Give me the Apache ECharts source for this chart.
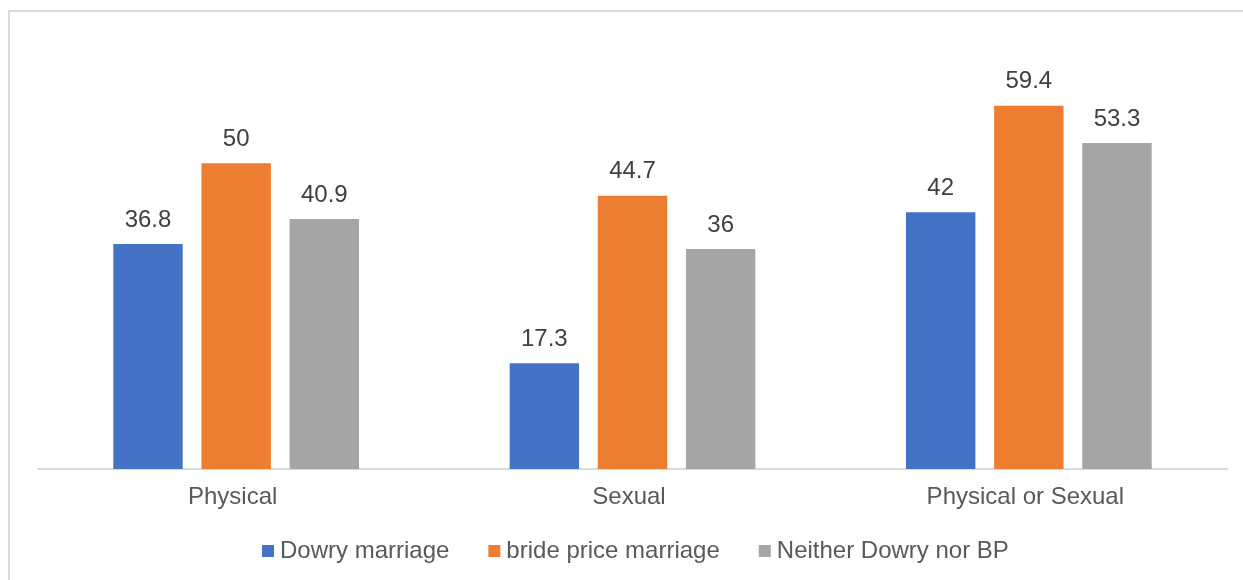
<!DOCTYPE html>
<html>
<head>
<meta charset="utf-8">
<script src="https://cdn.jsdelivr.net/npm/echarts@6/dist/echarts.min.js"></script>
<style>
html, body { margin: 0; padding: 0; background: #fff; }
#bars_chart { width: 1243px; height: 580px; }
</style>
</head>
<body>
<div id="bars_chart"></div>
<script>
var categories = ['Physical', 'Sexual', 'Physical or Sexual'];
var seriesNames = ['Dowry marriage', 'bride price marriage', 'Neither Dowry nor BP'];
var dowryValues = [36.8, 17.3, 42];
var bridePriceValues = [50, 44.7, 59.4];
var neitherValues = [40.9, 36, 53.3];
var seriesColors = ['#4472C4', '#ED7D31', '#A5A5A5'];

function display_bars(){
    var bar_chart = echarts.init(document.getElementById('bars_chart'));
    var font = '"Liberation Sans", Arial, sans-serif';
    var values = [dowryValues, bridePriceValues, neitherValues];

    var series = [];
    for (var i = 0; i < seriesNames.length; i++) {
        series.push({
            name: seriesNames[i],
            type: 'bar',
            data: values[i],
            barGap: '27%',
            barCategoryGap: '38%',
            itemStyle: { color: seriesColors[i] },
            label: {
                show: true,
                position: 'top',
                distance: 12,
                color: '#404040',
                fontSize: 24,
                fontFamily: font
            }
        });
    }

    var bar_option = {
        animation: false,
        backgroundColor: '#ffffff',
        graphic: [{
            type: 'rect',
            shape: { x: 9, y: 11, width: 1400, height: 800 },
            style: { fill: 'none', stroke: '#d9d9d9', lineWidth: 2 },
            silent: true
        }],
        grid: { left: 38, right: 16, top: 41, bottom: 111 },
        legend: {
            data: seriesNames,
            left: 262,
            top: 539,
            padding: 0,
            itemWidth: 12,
            itemHeight: 12,
            itemGap: 39,
            icon: 'rect',
            textStyle: { color: '#595959', fontSize: 24, fontFamily: font, padding: [0, 0, 0, 1] }
        },
        xAxis: {
            type: 'category',
            data: categories,
            axisLine: { lineStyle: { color: '#d9d9d9', width: 2 } },
            axisTick: { show: false },
            axisLabel: { color: '#595959', fontSize: 24, fontFamily: font, margin: 16, padding: [0, 7, 0, 0] }
        },
        yAxis: {
            type: 'value',
            min: 0,
            max: 70,
            show: false,
            splitLine: { show: false }
        },
        series: series
    };
    bar_chart.setOption(bar_option);
}

display_bars();
</script>
</body>
</html>
